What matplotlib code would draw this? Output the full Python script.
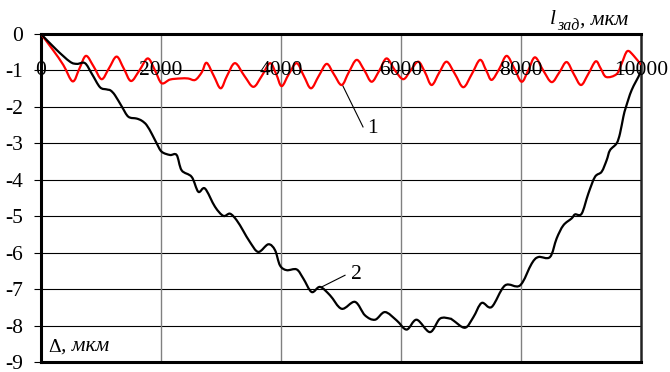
import matplotlib
matplotlib.use("Agg")
import matplotlib.pyplot as plt
from matplotlib.font_manager import FontProperties
from matplotlib.path import Path
from matplotlib.patches import PathPatch
import numpy as np

FDIR = "/usr/share/fonts/truetype/liberation/"
def fp(size, italic=False):
    return FontProperties(fname=FDIR + ("LiberationSerif-Italic.ttf" if italic else "LiberationSerif-Regular.ttf"), size=size)

# ---- data ----
red_x = [0, 200, 372, 528, 640, 750, 880, 1010, 1130, 1260, 1380, 1500, 1640, 1780, 1900, 2010,
         2150, 2320, 2450, 2570, 2680, 2760, 2880, 2995, 3100, 3233, 3390, 3540, 3680, 3817, 3920,
         4011, 4130, 4261, 4380, 4500, 4630, 4761, 4880, 5011, 5130, 5261, 5390, 5511, 5640, 5761,
         5900, 6038, 6160, 6288, 6400, 6511, 6640, 6761, 6900, 7039, 7180, 7317, 7420, 7511, 7640,
         7761, 7890, 8011, 8120, 8233, 8370, 8511, 8640, 8761, 8880, 9000, 9120, 9245, 9330, 9420,
         9594, 9680, 9772, 9880, 10000]
red_y = [0, -0.44, -0.85, -1.3, -0.95, -0.6, -0.9, -1.24, -0.95, -0.62, -0.95, -1.29, -1.0, -0.67, -1.0, -1.35,
         -1.25, -1.22, -1.22, -1.26, -1.05, -0.79, -1.15, -1.49, -1.15, -0.8, -1.15, -1.45, -1.15, -0.8, -1.1,
         -1.43, -1.1, -0.8, -1.15, -1.49, -1.15, -0.82, -1.1, -1.4, -1.05, -0.71, -1.0, -1.31, -1.0, -0.67,
         -1.0, -1.24, -1.0, -0.76, -1.05, -1.4, -1.05, -0.76, -1.1, -1.46, -1.1, -0.71, -1.0, -1.26, -0.95,
         -0.6, -0.95, -1.31, -1.0, -0.64, -1.0, -1.32, -1.05, -0.77, -1.1, -1.4, -1.1, -0.75, -0.95, -1.18,
         -1.1, -0.8, -0.47, -0.6, -0.85]

black_x = [0, 250, 483, 600, 733, 850, 983, 1094, 1160, 1233, 1350, 1456, 1594, 1680, 1761, 1850, 1928,
           2011, 2150, 2261, 2344, 2511, 2622, 2733, 2900, 3039, 3150, 3261, 3370, 3483, 3622, 3789, 3900,
           3983, 4094, 4261, 4372, 4511, 4650, 4817, 5011, 5233, 5400, 5567, 5733, 5928, 6094, 6261, 6483,
           6650, 6817, 6872, 7067, 7206, 7344, 7511, 7733, 7983, 8178, 8289, 8483, 8594, 8706, 8844, 8900,
           9011, 9122, 9233, 9344, 9428, 9483, 9594, 9650, 9706, 9750, 9844, 9983, 10000]
black_y = [0, -0.42, -0.76, -0.82, -0.8, -1.1, -1.46, -1.52, -1.55, -1.68, -2.0, -2.27, -2.32, -2.38, -2.5, -2.75, -3.0,
           -3.23, -3.32, -3.32, -3.74, -3.92, -4.33, -4.24, -4.74, -4.99, -4.93, -5.11, -5.4, -5.71, -5.98, -5.77, -5.93,
           -6.35, -6.48, -6.46, -6.71, -7.08, -6.94, -7.17, -7.54, -7.35, -7.72, -7.84, -7.63, -7.86, -8.11, -7.84, -8.18,
           -7.81, -7.81, -7.86, -8.06, -7.77, -7.38, -7.49, -6.9, -6.9, -6.3, -6.12, -6.12, -5.61, -5.25, -5.06, -4.95,
           -4.93, -4.38, -3.92, -3.78, -3.46, -3.19, -3.0, -2.73, -2.27, -2.0, -1.54, -1.08, -0.88]

x_ticks = [0, 2000, 4000, 6000, 8000, 10000]
x_tick_labels = ["0", "2000", "4000", "6000", "8000", "10000"]
y_ticks = [0, -1, -2, -3, -4, -5, -6, -7, -8, -9]
y_tick_labels = ["0", "-1", "-2", "-3", "-4", "-5", "-6", "-7", "-8", "-9"]


def smoothed_line(ax, xs, ys, **kw):
    """Excel-style smoothed line: cubic Bezier segments through the data points."""
    P = np.column_stack([xs, ys]).astype(float)
    n = len(P)
    verts = [P[0]]
    codes = [Path.MOVETO]
    t = 1.0 / 6.0
    for i in range(n - 1):
        p0 = P[i - 1] if i > 0 else P[i]
        p1 = P[i]
        p2 = P[i + 1]
        p3 = P[i + 2] if i + 2 < n else P[i + 1]
        verts += [p1 + (p2 - p0) * t, p2 - (p3 - p1) * t, p2]
        codes += [Path.CURVE4] * 3
    patch = PathPatch(Path(verts, codes), facecolor='none', transform=ax.transData, **kw)
    ax.add_patch(patch)
    return patch


# ---- figure ----
fig = plt.figure(figsize=(6.7, 3.72), dpi=100)
ax = fig.add_axes([41/670, 10/372, 600/670, 328/372])
ax.set_xlim(0, 10000)
ax.set_ylim(-9, 0)

for yv in y_ticks[1:-1]:
    ax.axhline(yv, color='black', lw=0.8, zorder=1)
for xv in x_ticks[1:-1]:
    ax.axvline(xv, color='#808080', lw=1.0, zorder=1)

smoothed_line(ax, red_x, red_y, edgecolor='#ff0000', lw=1.6, zorder=3, capstyle='round', joinstyle='round')
smoothed_line(ax, black_x, black_y, edgecolor='black', lw=1.6, zorder=3, capstyle='round', joinstyle='round')

for s in ['left', 'top', 'bottom']:
    ax.spines[s].set_linewidth(2.2)
    ax.spines[s].set_color('black')
ax.spines['right'].set_linewidth(1.8)
ax.spines['right'].set_color('#222222')

ax.set_xticks([])
ax.set_yticks(y_ticks)
ax.set_yticklabels(y_tick_labels)
for lab in ax.get_yticklabels():
    lab.set_fontproperties(fp(15.5))
ax.tick_params(axis='y', length=5, width=0.8, pad=8, direction='out')

for xv, lab in zip(x_ticks, x_tick_labels):
    ax.text(xv, -1, lab, ha='center', va='center', fontproperties=fp(15.5), zorder=5, clip_on=False)

# curve labels with leaders
ax.plot([5033, 5367], [-1.43, -2.55], color='black', lw=0.8, zorder=4)
ax.text(5517, -2.58, "1", ha='center', va='center', fontproperties=fp(15.5))
ax.plot([4667, 5067], [-6.95, -6.62], color='black', lw=0.8, zorder=4)
ax.text(5261, -6.61, "2", ha='center', va='center', fontproperties=fp(15.5))

# axis titles
t_l = fig.text(550/670, 1 - 24.5/372, "l", fontproperties=fp(15.5, True), ha='left', va='baseline')
t_sub = ax.annotate("зад", xy=(1, 0), xycoords=t_l, xytext=(1, -3), textcoords='offset points',
                    ha='left', va='bottom', fontproperties=fp(11.5, True), annotation_clip=False)
ax.annotate(", мкм", xy=(1, 0), xycoords=t_sub, xytext=(0, 3), textcoords='offset points',
            ha='left', va='bottom', fontproperties=fp(15.5, True), annotation_clip=False)

t_d = fig.text(48/670, 1 - 352/372, "Δ", fontproperties=fp(14), ha='left', va='baseline')
ax.annotate(", мкм", xy=(1, 0), xycoords=t_d, ha='left', va='bottom',
            fontproperties=fp(15.5, True), annotation_clip=False)

fig.savefig("out.png", dpi=100)
